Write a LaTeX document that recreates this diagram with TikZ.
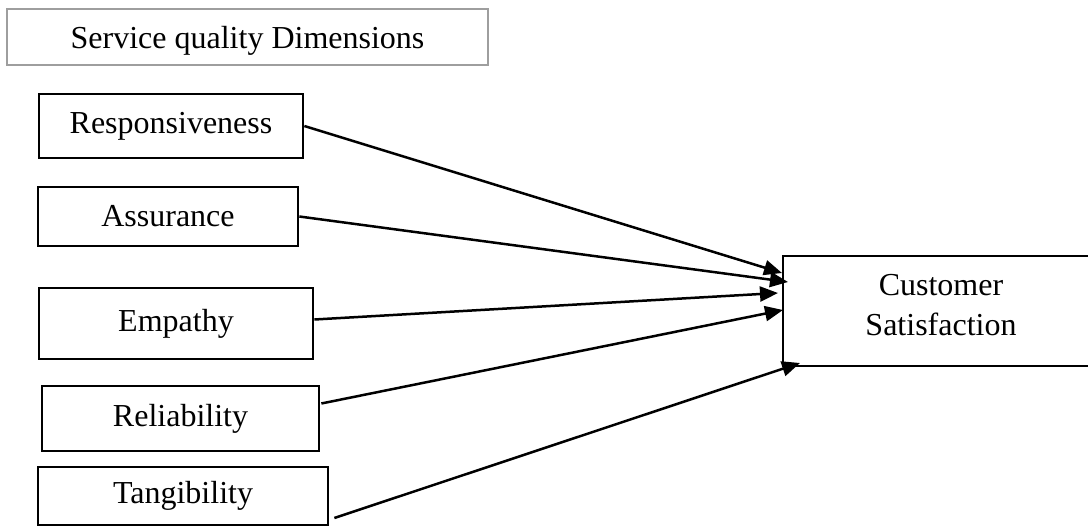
\documentclass[tikz,border=0pt]{standalone}
\usepackage{fontspec}
\setmainfont{Liberation Serif}
\usetikzlibrary{arrows.meta}
\begin{document}
\begin{tikzpicture}[x=1pt,y=-1pt,
  every node/.style={font=\fontsize{32}{40}\selectfont, inner sep=0pt, align=center},
  dimbox/.style={draw=black, line width=2.7pt, rectangle},
  titlebox/.style={draw=black!38, line width=2.6pt, rectangle},
  conn/.style={line width=2.5pt, -{Triangle[length=18pt,width=15pt]}}]
\useasboundingbox (0,0) rectangle (1088,527);
\node[titlebox, minimum width=481pt, minimum height=56pt,
  label={[yshift=-4pt]center:Service quality Dimensions}] (title) at (247.5,37) {};
\node[dimbox, minimum width=264pt, minimum height=64pt] (resp) at (171,126) {Responsiveness};
\node[dimbox, minimum width=260pt, minimum height=59pt] (assu) at (168,216.5) {Assurance};
\node[dimbox, minimum width=274pt, minimum height=71pt] (emp) at (176,323.5) {Empathy};
\node[dimbox, minimum width=277pt, minimum height=65pt] (rel) at (180.5,418.5) {Reliability};
\node[dimbox, minimum width=290pt, minimum height=58pt] (tan) at (183,496) {Tangibility};
\node[dimbox, minimum width=316pt, minimum height=110pt,
  label={[align=center,yshift=6pt]center:{Customer\\Satisfaction}}] (cs) at (941,311) {};
\coordinate (t1) at (782,273);
\coordinate (t2) at (788,282);
\coordinate (t3) at (778,293);
\coordinate (t4) at (783,310);
\coordinate (t5) at (800,363);
\draw[conn] (resp.east) -- (t1);
\draw[conn] (assu.east) -- (t2);
\draw[conn] ([yshift=4pt]emp.east) -- (t3);
\draw[conn] ([xshift=1pt,yshift=15pt]rel.east) -- (t4);
\draw[conn] ([xshift=5pt,yshift=-22pt]tan.east) -- (t5);
\end{tikzpicture}
\end{document}
